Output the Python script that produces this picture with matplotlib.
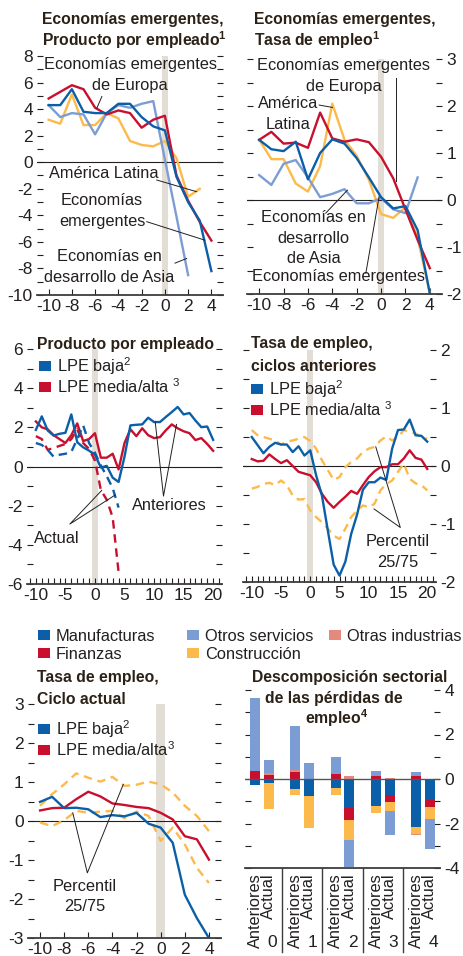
import numpy as np
import matplotlib.pyplot as plt
from matplotlib.patches import Rectangle

plt.rcParams['font.family'] = ['Liberation Sans', 'DejaVu Sans']
plt.rcParams['mathtext.fontset'] = 'custom'
plt.rcParams['mathtext.rm'] = 'Liberation Sans'
plt.rcParams['mathtext.bf'] = 'Liberation Sans:bold'
plt.rcParams['mathtext.it'] = 'Liberation Sans:italic'
plt.rcParams['axes.unicode_minus'] = False

# ---- datos ----
x_corto = np.arange(-10, 5)      # trimestres -10..4
x_largo = np.arange(-10, 21)     # trimestres -10..20

# Economías emergentes, producto por empleado
pe_europa = [4.8, 5.3, 5.8, 5.5, 4.1, 3.6, 3.9, 3.7, 2.6, 3.2, 3.5, -1.0, -2.9, -4.5, -5.9]
pe_emerg = [4.3, 4.3, 5.5, 3.8, 3.7, 3.7, 4.4, 4.4, 3.4, 2.7, 2.4, -1.1, -3.0, -4.4, -8.2]
pe_latam = [3.2, 2.9, 5.1, 2.8, 2.8, 3.7, 3.3, 1.6, 1.3, 1.2, 1.6, 0.3, -2.6, -2.0, np.nan]
pe_asia = [4.3, 3.4, 3.7, 3.6, 2.1, 3.7, 4.3, 4.1, 4.4, 4.6, 0.2, -4.1, -8.5, np.nan, np.nan]

# Economías emergentes, tasa de empleo
te_europa = [1.28, 1.45, 1.2, 1.22, 1.11, 1.86, 1.31, 1.24, 1.29, 1.23, 0.92, 0.46, -0.2, -0.85, -1.45]
te_emerg = [1.28, 1.08, 1.04, 1.24, 0.44, 1.0, 1.29, 1.2, 0.89, 0.48, 0.06, -0.18, -0.13, -0.64, -1.99]
te_latam = [1.28, 0.87, 0.87, 0.35, 0.18, 0.72, 2.05, 1.28, 0.94, 0.43, -0.3, -0.38, -0.15, -0.8, -1.98]
te_asia = [0.53, 0.32, 0.77, 0.85, 0.48, 0.06, 0.13, 0.23, -0.07, -0.07, 0.04, -0.2, -0.28, 0.48, np.nan]

# Producto por empleado, ciclos anteriores y actual
ppe_ant_baja = [1.87, 2.56, 1.84, 1.58, 1.67, 1.72, 2.66, 1.24, 0.98, 0.81, 0.6, -0.05, 0.03, -0.57, -0.79,
                0.5, 2.1, 2.13, 2.15, 2.49, 2.27, 2.27, 2.53, 2.78, 3.04, 2.66, 2.73, 2.35, 2.01, 2.04, 1.36]
ppe_ant_media = [2.3, 2.0, 1.9, 1.6, 1.4, 1.2, 1.6, 2.2, 1.3, 1.4, 1.7, 0.45, 0.45, 0.65, -0.15,
                 1.2, 1.9, 1.55, 1.95, 1.6, 1.45, 1.5, 1.85, 2.15, 1.95, 1.8, 1.7, 1.35, 1.45, 1.15, 0.8]
ppe_act_baja = [1.2, 1.1, 0.85, 0.5, 0.6, 0.65, 0.75, 1.4, 2.1, 1.2, 0.7, 0.05, -0.5, -1.1, -2.1]
ppe_act_media = [1.55, 1.4, 0.85, 0.95, 1.05, 1.15, 1.4, 1.9, 1.2, 0.9, 0.3, -1.2, -1.7, -2.6, -5.4]

# Tasa de empleo, ciclos anteriores
tea_baja = [0.5, 0.36, 0.22, 0.33, 0.4, 0.37, 0.37, 0.24, 0.34, 0.18, 0.27, -0.16, -0.51, -1.11, -1.7,
            -1.89, -1.65, -1.17, -0.84, -0.41, -0.28, -0.28, -0.2, -0.24, 0.3, 0.62, 0.63, 0.8, 0.53, 0.52, 0.42]
tea_media = [0.12, 0.08, 0.09, 0.2, 0.12, 0.05, 0.1, 0.0, -0.1, -0.13, -0.16, -0.28, -0.48, -0.62, -0.72,
             -0.62, -0.53, -0.43, -0.48, -0.33, -0.19, -0.09, -0.02, -0.02, 0.03, 0.03, 0.13, 0.27, 0.14, 0.11, -0.05]
tea_p75 = [0.62, 0.53, 0.5, 0.47, 0.44, 0.37, 0.42, 0.44, 0.47, 0.5, 0.43, 0.3, 0.1, -0.07, -0.24,
           -0.19, -0.02, 0.07, 0.13, 0.24, 0.3, 0.33, 0.44, 0.51, 0.44, 0.5, 0.62, 0.59, 0.56, 0.5, 0.47]
tea_p25 = [-0.39, -0.36, -0.31, -0.29, -0.33, -0.25, -0.33, -0.51, -0.58, -0.57, -0.77, -0.88, -0.97, -1.08, -1.2,
           -1.26, -1.08, -0.88, -0.77, -0.68, -0.71, -0.65, -0.42, -0.31, -0.25, -0.1, 0.04, -0.22, -0.3, -0.33, -0.42]

# Tasa de empleo, ciclo actual
tec_baja = [0.49, 0.62, 0.33, 0.34, 0.3, 0.1, 0.15, 0.12, 0.21, -0.07, -0.17, -0.56, -1.89, -2.49, -3.0]
tec_media = [0.27, 0.33, 0.34, 0.56, 0.75, 0.63, 0.45, 0.41, 0.36, 0.33, 0.21, 0.04, -0.39, -0.47, -0.99]
tec_p75 = [0.39, 0.69, 0.94, 1.22, 1.11, 1.01, 1.13, 0.9, 0.93, 1.01, 0.94, 0.73, 0.39, 0.13, -0.26]
tec_p25 = [-0.04, -0.13, 0.02, 0.26, 0.21, 0.24, 0.26, 0.07, 0.24, 0.13, -0.51, -0.17, -0.6, -1.2, -1.59]

# Descomposición sectorial (Anteriores/Actual para trimestres 0..4)
trimestres = ['0', '1', '2', '3', '4']
ciclos = ['Anteriores', 'Actual']
manufacturas = [-0.27, -0.17, -0.45, -0.72, -0.39, -1.29, -1.21, -0.72, -2.17, -0.94]
finanzas = [0.36, 0.18, 0.30, -0.04, 0.22, -0.55, 0.15, -0.30, 0.15, -0.33]
otras_ind = [0.0, 0.07, 0.10, 0.0, 0.0, 0.15, 0.0, 0.04, -0.05, 0.0]
construccion = [0.0, -1.18, -0.27, -1.43, -0.33, -0.90, -0.33, -0.42, -0.30, -0.53]
otros_serv = [3.30, 0.60, 1.98, 0.73, 0.78, -1.20, 0.21, -1.08, 0.15, -1.36]

# ---- estilo ----
BLUE = '#0B5FA8'
RED = '#C8102E'
LBLUE = '#7C9DD3'
YELLOW = '#FDBA4C'
PINK = '#E4897E'
BAND = '#E2DDD5'
INK = '#231F20'
FS = 11.8
DASH = (3.6, 2.4)

W, H = 463, 956
fig = plt.figure(figsize=(W / 100, H / 100), dpi=100)


def px_axes(l, t, r, b):
    return fig.add_axes([l / W, 1 - b / H, (r - l) / W, (b - t) / H])


def ftext(x, y, s, **kw):
    kw.setdefault('color', INK)
    fig.text(x / W, 1 - y / H, s, **kw)


def key(x, y, color, label):
    fig.add_artist(Rectangle((x / W, 1 - (y + 5) / H), 12 / W, 10 / H,
                             transform=fig.transFigure, color=color, lw=0))
    ftext(x + 18, y + 6, label, fontsize=FS, va='baseline')


def setup(ax, xlim, ylim, ymaj, ymin, side, xmaj, xmin, band):
    ax.set_xlim(xlim)
    ax.set_ylim(ylim)
    for s in ['top', 'left', 'right']:
        ax.spines[s].set_visible(False)
    ax.spines['bottom'].set_color('#3D3D3D')
    ax.spines['bottom'].set_linewidth(1.3)
    ax.axhline(0, color=INK, lw=0.8, zorder=1)
    ax.set_yticks(ymaj)
    ax.set_yticks(ymin, minor=True)
    ax.tick_params(axis='y', which='both', direction='in', length=4, width=0.8,
                   left=True, right=True, labelleft=(side == 'left'),
                   labelright=(side == 'right'), pad=3, labelsize=12.5,
                   colors=INK)
    ax.set_xticks(xmaj)
    if xmin is not None:
        ax.set_xticks(xmin, minor=True)
    ax.tick_params(axis='x', which='both', direction='in', length=4, width=0.8,
                   top=False, pad=3, labelsize=12.5, colors=INK)
    if band:
        ax.axvspan(-band, band, color=BAND, lw=0, zorder=0)


def leader(ax, *pts):
    ax.plot([p[0] for p in pts], [p[1] for p in pts], color=INK, lw=0.7, zorder=5)


def note(ax, x, y, s):
    ax.text(x, y, s, ha='center', va='center', fontsize=FS, color=INK,
            linespacing=1.45, zorder=6)


LW = 1.7

# ---- panel 1: producto por empleado, emergentes ----
ax1 = px_axes(37, 56, 223, 295)
setup(ax1, (-11, 5), (-10, 8), np.arange(-10, 9, 2), np.arange(-10, 9, 1), 'left',
      np.arange(-10, 5, 2), None, 0.24)
ax1.plot(x_corto, pe_latam, color=YELLOW, lw=LW)
ax1.plot(x_corto, pe_asia, color=LBLUE, lw=LW)
ax1.plot(x_corto, pe_europa, color=RED, lw=LW)
ax1.plot(x_corto, pe_emerg, color=BLUE, lw=LW)
note(ax1, -2.98, 6.56, 'Economías emergentes\nde Europa')
leader(ax1, (-5.42, 4.95), (-5.85, 4.08))
note(ax1, -5.27, -0.88, 'América Latina')
leader(ax1, (-0.7, -1.34), (2.73, -2.22))
note(ax1, -5.4, -3.68, 'Economías\nemergentes')
leader(ax1, (-1.56, -4.48), (3.44, -5.87))
note(ax1, -4.8, -7.88, 'Economías en\ndesarrollo de Asia')
leader(ax1, (0.87, -7.6), (1.87, -7.25))

# ---- panel 2: tasa de empleo, emergentes ----
ax2 = px_axes(247, 59, 442, 294)
setup(ax2, (-11, 5), (-2, 3), np.arange(-2, 4, 1), np.arange(-2, 3.01, 0.5), 'right',
      np.arange(-10, 5, 2), None, 0.22)
ax2.plot(x_corto, te_latam, color=YELLOW, lw=LW)
ax2.plot(x_corto, te_asia, color=LBLUE, lw=LW)
ax2.plot(x_corto, te_europa, color=RED, lw=LW)
ax2.plot(x_corto, te_emerg, color=BLUE, lw=LW)
note(ax2, -3.08, 2.64, 'Economías emergentes\nde Europa')
leader(ax2, (1.2, 2.6), (1.2, 0.4))
note(ax2, -7.6, 1.83, 'América\nLatina')
leader(ax2, (-5.08, 2.02), (-3.99, 1.97))
note(ax2, -5.55, -0.81, 'Economías en\ndesarrollo\nde Asia')
leader(ax2, (-4.54, -0.28), (-2.76, 0.21))
note(ax2, -3.49, -1.62, 'Economías emergentes')
leader(ax2, (-1.25, -1.56), (-0.16, 0.07))

# ---- panel 3: producto por empleado ----
ax3 = px_axes(27, 349, 222, 584)
setup(ax3, (-11.5, 21.5), (-6, 6), np.arange(-6, 7, 2), np.arange(-6, 7, 1), 'left',
      np.arange(-10, 21, 5), np.arange(-11, 22, 1), 0.46)
ax3.plot(x_largo, ppe_ant_media, color=RED, lw=LW)
ax3.plot(x_largo, ppe_ant_baja, color=BLUE, lw=LW)
ax3.plot(x_corto, ppe_act_media, color=RED, lw=LW, dashes=DASH)
ax3.plot(x_corto, ppe_act_baja, color=BLUE, lw=LW, dashes=DASH)
note(ax3, 12.6, -1.97, 'Anteriores')
leader(ax3, (10.2, 2.27), (11.6, -1.51), (13.8, 2.15))
note(ax3, -6.4, -3.66, 'Actual')
leader(ax3, (1.14, -1.22), (-4.25, -2.94), (3.4, -1.46))

# ---- panel 4: tasa de empleo, ciclos anteriores ----
ax4 = px_axes(243, 350, 436, 582)
setup(ax4, (-11.5, 21.5), (-2, 2), np.arange(-2, 3, 1), np.arange(-2, 2.01, 0.5), 'right',
      np.arange(-10, 21, 5), np.arange(-11, 22, 1), 0.48)
ax4.plot(x_largo, tea_p75, color=YELLOW, lw=LW, dashes=DASH)
ax4.plot(x_largo, tea_p25, color=YELLOW, lw=LW, dashes=DASH)
ax4.plot(x_largo, tea_media, color=RED, lw=LW)
ax4.plot(x_largo, tea_baja, color=BLUE, lw=LW)
note(ax4, 14.9, -1.48, 'Percentil\n25/75')
leader(ax4, (11.2, 0.33), (15.4, -1.06), (10.9, -0.74))

# ---- panel 5: tasa de empleo, ciclo actual ----
ax5 = px_axes(28, 704, 221, 938)
setup(ax5, (-11, 5), (-3, 3), np.arange(-3, 4, 1), np.arange(-3, 3.01, 0.5), 'left',
      np.arange(-10, 5, 2), None, 0.37)
ax5.plot(x_corto, tec_p75, color=YELLOW, lw=LW, dashes=DASH)
ax5.plot(x_corto, tec_p25, color=YELLOW, lw=LW, dashes=DASH)
ax5.plot(x_corto, tec_media, color=RED, lw=LW)
ax5.plot(x_corto, tec_baja, color=BLUE, lw=LW)
note(ax5, -6.27, -1.93, 'Percentil\n25/75')
leader(ax5, (-7.29, 0.21), (-6.08, -1.33), (-3.1, 0.94))

# ---- panel 6: descomposición sectorial ----
ax6 = px_axes(245, 690, 440, 868)
pos = np.array([3 * i + j for i in range(len(trimestres)) for j in range(len(ciclos))])
setup(ax6, (-0.75, 13.75), (-4, 4), np.arange(-4, 5, 2), np.arange(-4, 5, 1), 'right',
      pos, None, None)
sectores = {
    'Manufacturas': (manufacturas, BLUE),
    'Finanzas': (finanzas, RED),
    'Otras industrias': (otras_ind, PINK),
    'Construcción': (construccion, YELLOW),
    'Otros servicios': (otros_serv, LBLUE),
}
orden_pos = ['Manufacturas', 'Finanzas', 'Otras industrias', 'Construcción', 'Otros servicios']
orden_neg = ['Manufacturas', 'Finanzas', 'Construcción', 'Otros servicios', 'Otras industrias']
base_pos = np.zeros(len(pos))
base_neg = np.zeros(len(pos))
for nombre in orden_pos:
    v = np.clip(np.array(sectores[nombre][0]), 0, None)
    ax6.bar(pos, v, bottom=base_pos, width=0.74, color=sectores[nombre][1], lw=0, zorder=2)
    base_pos += v
for nombre in orden_neg:
    v = np.clip(np.array(sectores[nombre][0]), None, 0)
    ax6.bar(pos, v, bottom=base_neg, width=0.74, color=sectores[nombre][1], lw=0, zorder=2)
    base_neg += v
ax6.axhline(0, color='#555555', lw=0.9, zorder=3)
ax6.set_xticks(pos, labels=ciclos * len(trimestres), rotation=90, fontsize=FS)
ax6.tick_params(axis='x', length=0, pad=4)
tr = ax6.get_xaxis_transform()
for i, t in enumerate(trimestres):
    ax6.text(3 * i + 1.25, -0.42, t, transform=tr, ha='center', va='center',
             fontsize=12.5, color=INK)
for i in range(len(trimestres) - 1):
    ax6.plot([3 * i + 2, 3 * i + 2], [0, -0.47], transform=tr, color='#3D3D3D',
             lw=1.0, clip_on=False)

# ---- títulos ----
TB = dict(fontsize=11.3, fontweight='bold', va='baseline', color='#2B2117')
ftext(42, 24, 'Economías emergentes,', **TB)
ftext(42, 46, r'Producto por empleado$^{\mathbf{1}}$', **TB)
ftext(254, 24, 'Economías emergentes,', **TB)
ftext(254, 46, r'Tasa de empleo$^{\mathbf{1}}$', **TB)
ftext(37, 349, 'Producto por empleado', **TB)
ftext(251, 348, 'Tasa de empleo,', **TB)
ftext(251, 371, 'ciclos anteriores', **TB)
ftext(37, 682, 'Tasa de empleo,', **TB)
ftext(37, 704, 'Ciclo actual', **TB)
ftext(350, 682, 'Descomposición sectorial', ha='center', **TB)
ftext(334, 703, 'de las pérdidas de', ha='center', **TB)
ftext(337, 724, r'empleo$^{\mathbf{4}}$', ha='center', **TB)

# ---- leyendas ----
key(39, 366, BLUE, r'LPE baja$^2$')
key(39, 387, RED, r'LPE media/alta $^3$')
key(251, 389, BLUE, r'LPE baja$^2$')
key(251, 410, RED, r'LPE media/alta $^3$')
key(38, 729, BLUE, r'LPE baja$^2$')
key(38, 750, RED, r'LPE media/alta$^3$')
key(38, 635, BLUE, 'Manufacturas')
key(38, 653, RED, 'Finanzas')
key(187, 635, LBLUE, 'Otros servicios')
key(187, 653, YELLOW, 'Construcción')
key(329, 635, PINK, 'Otras industrias')

fig.savefig('out.png', dpi=100)
